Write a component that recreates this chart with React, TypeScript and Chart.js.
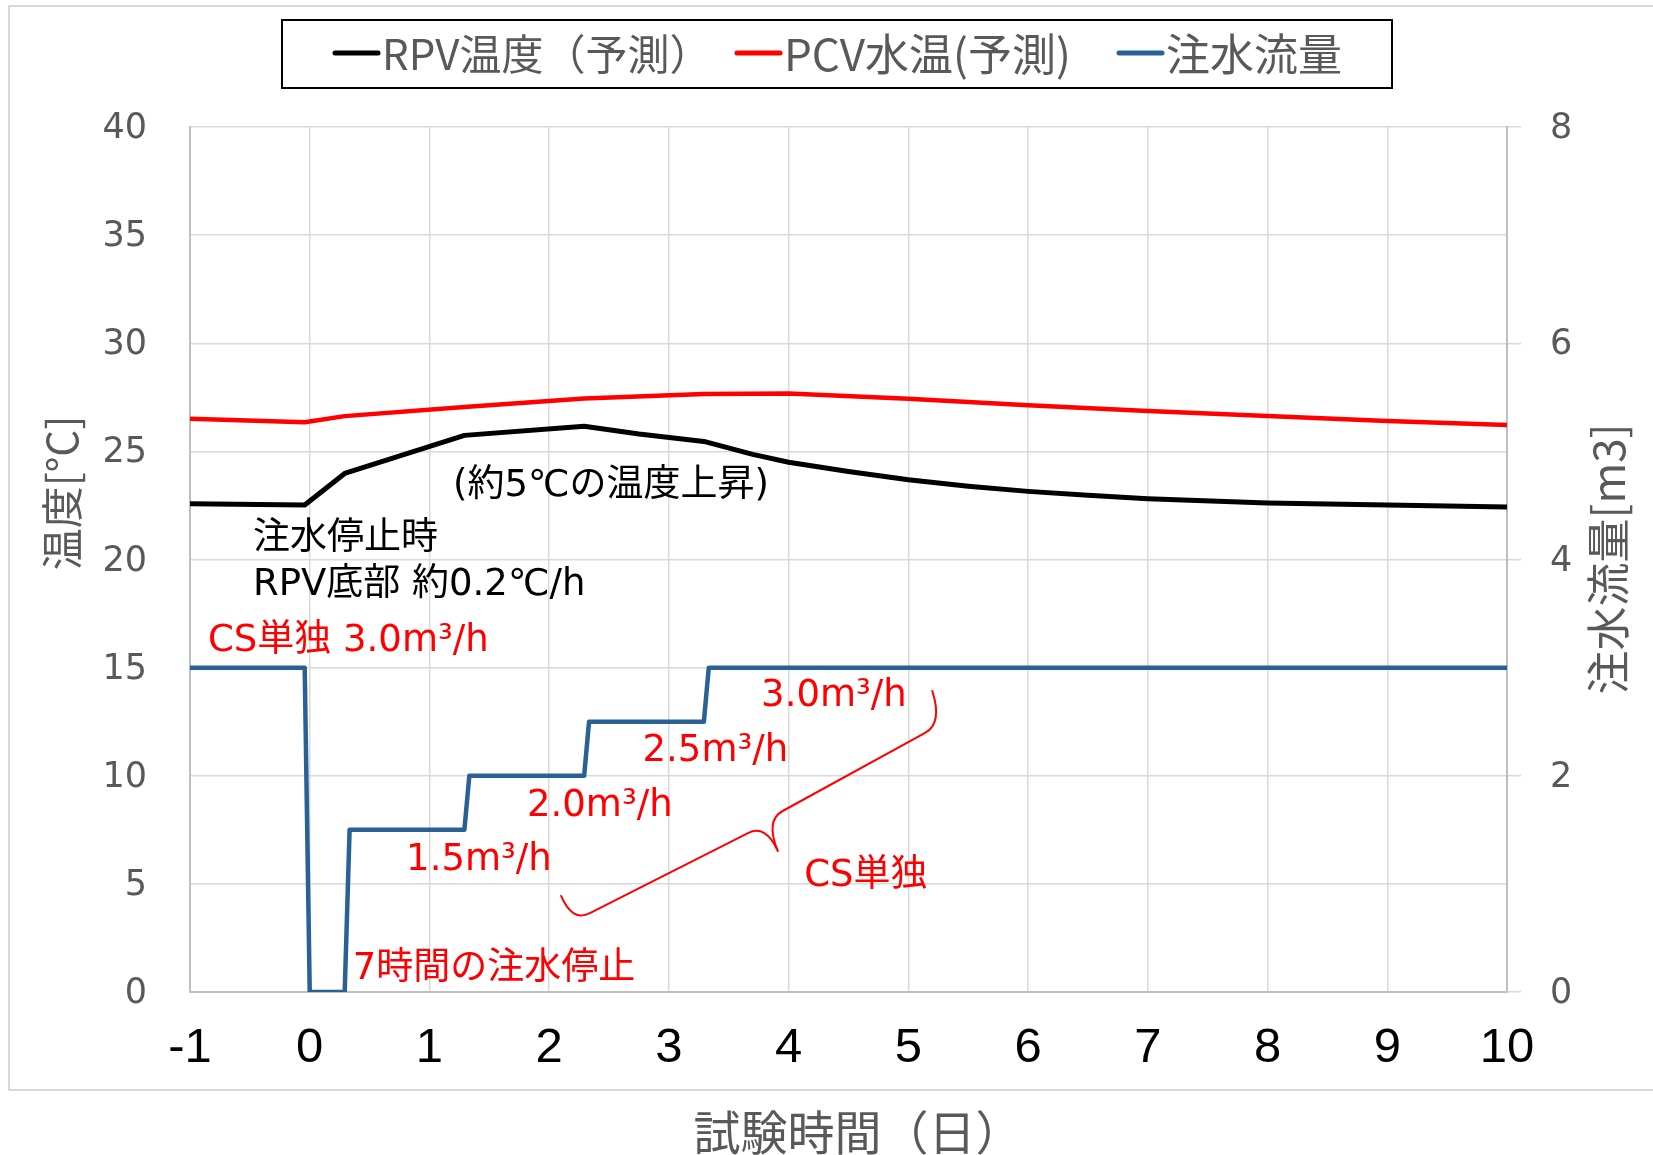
import React, { useEffect, useRef } from "react";
import { Chart, registerables } from "chart.js";

Chart.register(...registerables);

const W = 1653;
const H = 1155;

// ---- data ----
const dayTicks = [-1, 0, 1, 2, 3, 4, 5, 6, 7, 8, 9, 10];

const rpvDays = [-1, -0.042, 0.292, 1.292, 2.292, 2.75, 3.292, 3.7, 4, 4.5, 5, 5.5, 6, 6.5, 7, 8, 9, 10];
const rpvTemp = [22.58, 22.52, 23.98, 25.74, 26.16, 25.8, 25.46, 24.86, 24.5, 24.07, 23.69, 23.39, 23.15, 22.97, 22.81, 22.61, 22.52, 22.43];

const pcvDays = [-1, -0.042, 0.292, 1.292, 2.292, 3.292, 4, 5, 6, 7, 8, 9, 10];
const pcvTemp = [26.51, 26.35, 26.63, 27.05, 27.45, 27.65, 27.68, 27.43, 27.13, 26.87, 26.64, 26.41, 26.22];

const flowDays = [-1, -0.042, 0, 0.292, 0.333, 1.292, 1.333, 2.292, 2.333, 3.292, 3.333, 10];
const flowRate = [3, 3, 0, 0, 1.5, 1.5, 2, 2, 2.5, 2.5, 3, 3];

const seriesLabels = ["RPV温度（予測）", "PCV水温(予測)", "注水流量"];

// annotation texts anchored in data coordinates (day, °C)
const noteTexts = [
  "(約5℃の温度上昇)",
  "注水停止時",
  "RPV底部 約0.2℃/h",
  "CS単独 3.0m³/h",
  "3.0m³/h",
  "2.5m³/h",
  "2.0m³/h",
  "1.5m³/h",
  "CS単独",
  "7時間の注水停止",
];
const noteColors = ["#000", "#000", "#000", "#f00", "#f00", "#f00", "#f00", "#f00", "#f00", "#f00"];
const noteDay = [1.197, -0.474, -0.474, -0.85, 3.77, 2.78, 1.815, 0.805, 4.13, 0.36];
const noteTemp = [23.39, 20.94, 18.81, 16.22, 13.68, 11.13, 8.59, 6.09, 5.35, 1.05];

// curly brace key points (day, °C)
const braceDay = [2.1, 2.34, 3.66, 3.91, 3.95, 5.14, 5.2];
const braceTemp = [4.44, 3.65, 7.35, 6.52, 8.37, 11.98, 13.92];

const GRAY = "#595959";
const CJK = '"Noto Sans CJK JP", "Noto Sans", sans-serif';
const VERD = '"DejaVu Sans", "Noto Sans CJK JP", sans-serif';

const pts = (xs: number[], ys: number[]) => xs.map((x, i) => ({ x, y: ys[i] }));

const decor = {
  id: "decor",
  beforeDraw(chart: any) {
    const ctx = chart.ctx;
    ctx.save();
    ctx.fillStyle = "#fff";
    ctx.fillRect(0, 0, W, H);
    ctx.strokeStyle = "#d9d9d9";
    ctx.lineWidth = 2;
    ctx.strokeRect(9, 6, W + 20, 1084);
    ctx.restore();
  },
  afterDraw(chart: any) {
    const ctx = chart.ctx;
    const xs = chart.scales.x;
    const ys = chart.scales.y;
    ctx.save();

    // legend
    ctx.strokeStyle = "#000";
    ctx.lineWidth = 2;
    ctx.strokeRect(282, 20, 1110, 68);
    const lineX = [333, 735, 1117];
    const legendSize = [42, 44, 44];
    ctx.textBaseline = "middle";
    ctx.textAlign = "left";
    chart.data.datasets.forEach((ds: any, i: number) => {
      ctx.strokeStyle = ds.borderColor;
      ctx.lineWidth = 5;
      ctx.lineCap = "round";
      ctx.beginPath();
      ctx.moveTo(lineX[i] + 2, 53);
      ctx.lineTo(lineX[i] + 45, 53);
      ctx.stroke();
      ctx.fillStyle = GRAY;
      ctx.font = `${legendSize[i]}px ${CJK}`;
      ctx.fillText(ds.label, lineX[i] + 49, 54);
    });

    // axis titles
    ctx.fillStyle = GRAY;
    ctx.textAlign = "center";
    ctx.font = `47px ${CJK}`;
    ctx.fillText("試験時間（日）", 858, 1132);
    ctx.save();
    ctx.translate(62, 493);
    ctx.rotate(-Math.PI / 2);
    ctx.font = `42px ${CJK}`;
    ctx.fillText("温度[°C]", 0, 0);
    ctx.restore();
    ctx.save();
    ctx.translate(1608, 559);
    ctx.rotate(-Math.PI / 2);
    ctx.font = `44px ${CJK}`;
    ctx.fillText("注水流量[m3]", 0, 0);
    ctx.restore();

    // annotations
    ctx.textAlign = "left";
    ctx.font = `37px ${VERD}`;
    noteTexts.forEach((t, i) => {
      ctx.fillStyle = noteColors[i];
      ctx.fillText(t, xs.getPixelForValue(noteDay[i]), ys.getPixelForValue(noteTemp[i]));
    });

    // brace
    const P = braceDay.map((d, i) => [xs.getPixelForValue(d), ys.getPixelForValue(braceTemp[i])]);
    const dir = (a: number[], b: number[]) => {
      const dx = b[0] - a[0], dy = b[1] - a[1];
      const l = Math.hypot(dx, dy);
      return [dx / l, dy / l];
    };
    const dL = dir(P[1], P[2]);
    const dR = dir(P[4], P[5]);
    const k = 20;
    ctx.strokeStyle = "#f00";
    ctx.lineWidth = 2;
    ctx.lineCap = "round";
    ctx.lineJoin = "round";
    ctx.beginPath();
    ctx.moveTo(P[0][0], P[0][1]);
    ctx.quadraticCurveTo(P[1][0] - k * dL[0], P[1][1] - k * dL[1], P[1][0], P[1][1]);
    ctx.lineTo(P[2][0], P[2][1]);
    ctx.quadraticCurveTo(P[2][0] + k * dL[0], P[2][1] + k * dL[1], P[3][0], P[3][1]);
    ctx.quadraticCurveTo(P[4][0] - k * dR[0], P[4][1] - k * dR[1], P[4][0], P[4][1]);
    ctx.lineTo(P[5][0], P[5][1]);
    ctx.quadraticCurveTo(P[5][0] + k * dR[0], P[5][1] + k * dR[1], P[6][0], P[6][1]);
    ctx.stroke();

    ctx.restore();
  },
};

export default function App() {
  const ref = useRef<HTMLCanvasElement>(null);
  useEffect(() => {
    document.body.style.margin = "0";
    const chart = new Chart(ref.current!, {
      type: "line",
      data: {
        datasets: [
          {
            label: seriesLabels[0],
            data: pts(rpvDays, rpvTemp),
            borderColor: "#000000",
            borderWidth: 5,
            yAxisID: "y",
          },
          {
            label: seriesLabels[1],
            data: pts(pcvDays, pcvTemp),
            borderColor: "#ff0000",
            borderWidth: 4.5,
            yAxisID: "y",
          },
          {
            label: seriesLabels[2],
            data: pts(flowDays, flowRate),
            borderColor: "#2a6194",
            borderWidth: 4.5,
            yAxisID: "y2",
          },
        ],
      },
      options: {
        animation: false,
        responsive: false,
        devicePixelRatio: 1,
        events: [],
        layout: { padding: { top: 127, left: 0, right: 0, bottom: 0 } },
        elements: {
          point: { radius: 0 },
          line: { tension: 0, borderJoinStyle: "round", borderCapStyle: "butt" },
        },
        plugins: { legend: { display: false }, tooltip: { enabled: false } },
        scales: {
          x: {
            type: "linear",
            min: -1,
            max: 10,
            afterBuildTicks: (s: any) => {
              s.ticks = dayTicks.map((v) => ({ value: v }));
            },
            afterFit: (s: any) => {
              s.height = 163;
            },
            grid: { color: "#d9d9d9", lineWidth: 1.5, drawTicks: false },
            border: { color: "#bfbfbf", width: 2 },
            ticks: {
              autoSkip: false,
              maxRotation: 0,
              padding: 27,
              color: "#000",
              font: { family: '"Liberation Sans", Arial, sans-serif', size: 49 },
              callback: (v: any) => String(v),
            },
          },
          y: {
            position: "left",
            min: 0,
            max: 40,
            afterFit: (s: any) => {
              s.width = 190;
            },
            grid: { color: "#d9d9d9", lineWidth: 1.5, drawTicks: false },
            border: { color: "#bfbfbf", width: 2 },
            ticks: {
              stepSize: 5,
              padding: 43,
              labelOffset: 2,
              color: GRAY,
              font: { family: VERD, size: 35 },
            },
          },
          y2: {
            position: "right",
            min: 0,
            max: 8,
            afterFit: (s: any) => {
              s.width = 146;
            },
            grid: { drawOnChartArea: false, drawTicks: true, tickLength: 14, color: "#d9d9d9", lineWidth: 1.5 },
            border: { color: "#bfbfbf", width: 2 },
            ticks: {
              stepSize: 2,
              padding: 29,
              labelOffset: 2,
              color: GRAY,
              font: { family: VERD, size: 35 },
            },
          },
        },
      },
      plugins: [decor],
    } as any);
    return () => chart.destroy();
  }, []);
  return (
    <div style={{ position: "absolute", left: 0, top: 0, width: W, height: H }}>
      <canvas ref={ref} width={W} height={H} style={{ width: W, height: H, display: "block" }} />
    </div>
  );
}
